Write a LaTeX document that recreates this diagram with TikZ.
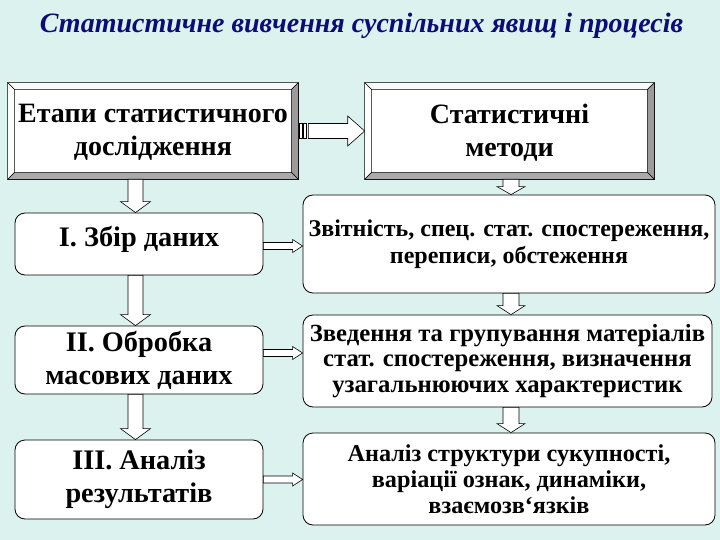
\documentclass[tikz,border=0pt]{standalone}
\usepackage{fontspec}
\setmainfont{Liberation Serif}
\usetikzlibrary{calc}
\definecolor{bgc}{RGB}{220,242,238}
\definecolor{titlec}{RGB}{12,12,120}
\definecolor{bevdark}{RGB}{155,155,155}
\definecolor{bevmid}{RGB}{170,170,170}
\definecolor{bevlight}{RGB}{250,250,250}
\newcommand\bevelbox[1]{%
  \draw[bevline, fill=bevlight] (#1.north west) -- (#1.north east) -- ($(#1.north east)+(-7,7)$) -- ($(#1.north west)+(7,7)$) -- cycle;
  \draw[bevline, fill=white] (#1.north west) -- ($(#1.north west)+(7,7)$) -- ($(#1.south west)+(7,-7)$) -- (#1.south west) -- cycle;
  \draw[bevline, fill=bevdark] (#1.north east) -- (#1.south east) -- ($(#1.south east)+(-7,-7)$) -- ($(#1.north east)+(-7,7)$) -- cycle;
  \draw[bevline, fill=bevmid] (#1.south west) -- (#1.south east) -- ($(#1.south east)+(-7,-7)$) -- ($(#1.south west)+(7,-7)$) -- cycle;
}
% down block arrow: #1 column coordinate, #2 from anchor, #3 to anchor, #4 shaft half, #5 head half, #6 head length
\newcommand\dnarr[6]{%
  \draw[barrow] ($(#1 |- #2)+(-#4,0)$) -- ($(#1 |- #3)+(-#4,-#6)$) -- ($(#1 |- #3)+(-#5,-#6)$) -- (#1 |- #3)
    -- ($(#1 |- #3)+(#5,-#6)$) -- ($(#1 |- #3)+(#4,-#6)$) -- ($(#1 |- #2)+(#4,0)$) -- cycle;
}
% right block arrow: #1 start coordinate, #2 target anchor
\newcommand\rtarr[2]{%
  \draw[barrow] ($(#1)+(0,-3.5)$) -- ($(#2 |- #1)+(-10,-3.5)$) -- ($(#2 |- #1)+(-10,-6.5)$) -- (#2 |- #1)
    -- ($(#2 |- #1)+(-10,6.5)$) -- ($(#2 |- #1)+(-10,3.5)$) -- ($(#1)+(0,3.5)$) -- cycle;
}
\begin{document}
\begin{tikzpicture}[x=1pt,y=-1pt,
  bevline/.style={draw=black, line width=0.5pt, line join=miter},
  bevbox/.style={draw=black, line width=0.6pt, fill=white, inner sep=0pt},
  toptxt/.style={font=\fontsize{28}{33}\selectfont\bfseries, align=center},
  rbox/.style={draw=black, line width=0.8pt, fill=white, rounded corners=10pt, inner sep=0pt, align=center},
  lefttxt/.style={font=\fontsize{28.3}{33}\selectfont\bfseries, align=center},
  barrow/.style={draw=black, line width=0.6pt, fill=white, line join=miter}]
\fill[bgc] (0,0) rectangle (720,540);
\useasboundingbox (0,0) rectangle (720,540);

\node[font=\fontsize{28}{30}\selectfont\bfseries\itshape, text=titlec, anchor=base] (title) at (361.5,33)
  {Статистичне вивчення суспільних явищ і процесів};

\coordinate (colL) at (135.5,0);
\coordinate (colR) at (511,0);

\node[bevbox, minimum width=290pt, minimum height=96pt] (topL) at (153,131) {};
\node[bevbox, minimum width=289pt, minimum height=96pt] (topR) at (509.5,131) {};
\bevelbox{topL}
\bevelbox{topR}
\node[toptxt] (topLt) at ($(topL)+(0,1)$) {Етапи статистичного\\дослідження};
\node[toptxt] (topRt) at ($(topR)+(0,2)$) {Статистичні\\методи};

\node[rbox, minimum width=248pt, minimum height=62pt] (I) at (139,244) {};
\node[lefttxt, anchor=base] (It) at ($(I.center)+(0,2)$) {І. Збір даних};
\node[rbox, lefttxt, minimum width=248pt, minimum height=68pt] (II) at (139,360) {ІІ. Обробка\\масових даних};
\node[rbox, lefttxt, minimum width=248pt, minimum height=79pt] (III) at (139,479.5) {ІІІ. Аналіз\\результатів};

\node[rbox, font=\fontsize{24}{27}\selectfont\bfseries, minimum width=412pt, minimum height=98pt] (Z1) at (509,244)
  {Звітність, спец. стат. спостереження,\\переписи, обстеження};
\node[rbox, font=\fontsize{24.7}{25.5}\selectfont\bfseries, minimum width=409pt, minimum height=92pt] (Z2) at (507.5,361)
  {Зведення та групування матеріалів\\стат. спостереження, визначення\\узагальнюючих характеристик};
\node[rbox, font=\fontsize{24.2}{26}\selectfont\bfseries, minimum width=412pt, minimum height=92pt] (Z3) at (509,479)
  {Аналіз структури сукупності,\\варіації ознак, динаміки,\\взаємозв‘язків};

% striped arrow between top boxes
\draw[barrow] ($(topL.east)+(1,-7.5)$) rectangle ($(topL.east)+(4,7.5)$);
\draw[barrow] ($(topL.east)+(5,-7.5)$) rectangle ($(topL.east)+(8,7.5)$);
\draw[barrow] ($(topL.east)+(10,-7.5)$) -- ($(topR.west |- topL.east)+(-17,-7.5)$) -- ($(topR.west |- topL.east)+(-17,-15)$)
  -- (topR.west |- topL.east) -- ($(topR.west |- topL.east)+(-17,15)$) -- ($(topR.west |- topL.east)+(-17,7.5)$)
  -- ($(topL.east)+(10,7.5)$) -- cycle;

% left column
\dnarr{colL}{topL.south}{I.north}{7.5}{15}{11}
\dnarr{colL}{I.south}{II.north}{7.5}{15}{11}
\dnarr{colL}{II.south}{III.north}{7.5}{15}{11}
% right column
\dnarr{colR}{topR.south}{Z1.north}{8}{14}{8}
\dnarr{colR}{Z1.south}{Z2.north}{8}{14}{9}
\dnarr{colR}{Z2.south}{Z3.north}{8}{14}{9}
% row arrows
\coordinate (r1) at ($(I.east)+(0,2)$);
\coordinate (r2) at ($(II.east)+(0,-7)$);
\coordinate (r3) at (III.east);
\rtarr{r1}{Z1.west}
\rtarr{r2}{Z2.west}
\rtarr{r3}{Z3.west}
\end{tikzpicture}
\end{document}
